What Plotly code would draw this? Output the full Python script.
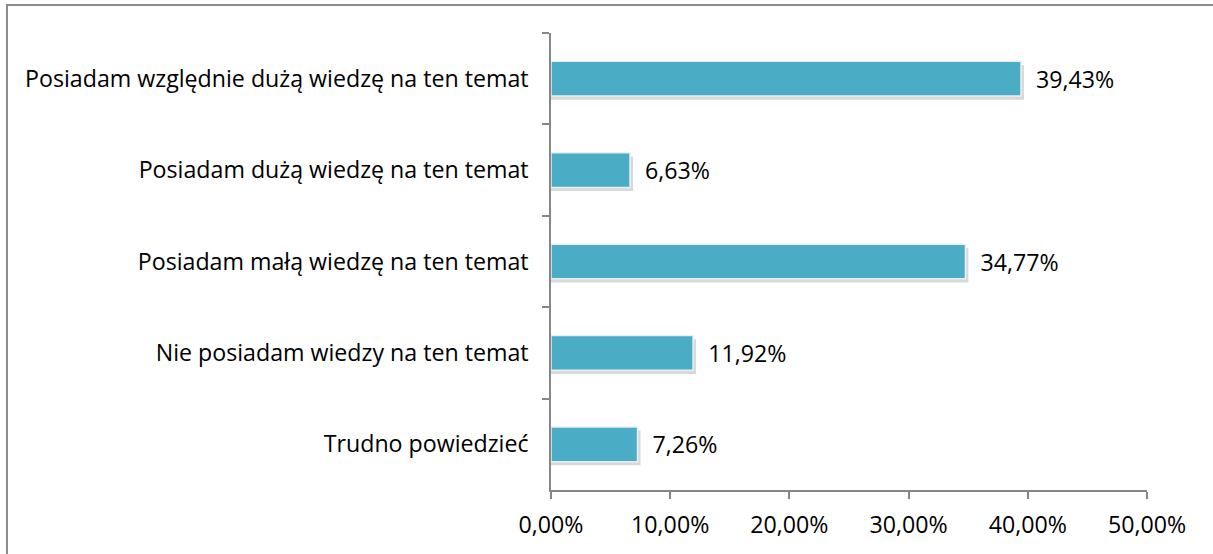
import plotly.graph_objects as go

categories = [
    "Posiadam względnie dużą wiedzę na ten temat",
    "Posiadam dużą wiedzę na ten temat",
    "Posiadam małą wiedzę na ten temat",
    "Nie posiadam wiedzy na ten temat",
    "Trudno powiedzieć",
]
values = [39.43, 6.63, 34.77, 11.92, 7.26]
x_ticks = [0, 10, 20, 30, 40, 50]
x_tick_labels = ["0,00%", "10,00%", "20,00%", "30,00%", "40,00%", "50,00%"]

FONT = "Open Sans"
FS = 23.2
BAR_W = 0.38
fig = go.Figure()
# soft shadow under each bar
fig.add_trace(go.Bar(
    y=categories,
    x=[v + 0.25 for v in values],
    orientation="h",
    marker=dict(color="rgba(0,0,0,0.15)", line=dict(width=0)),
    width=BAR_W,
    offset=-BAR_W / 2 + 0.04,
    hoverinfo="skip",
))
fig.add_trace(go.Bar(
    y=categories,
    x=values,
    orientation="h",
    marker=dict(color="#4BACC6", line=dict(color="#E8F0F2", width=1.5)),
    text=["  " + ("%.2f%%" % v).replace(".", ",") for v in values],
    textposition="outside",
    textfont=dict(family=FONT, size=FS, color="#000000"),
    cliponaxis=False,
    width=BAR_W,
    offset=-BAR_W / 2,
    hoverinfo="skip",
))

fig.update_layout(
    width=1213, height=554,
    margin=dict(l=551, r=66, t=33, b=64),
    paper_bgcolor="white", plot_bgcolor="white",
    barmode="overlay",
    showlegend=False,
    font=dict(family=FONT, size=FS, color="#000000"),
    xaxis=dict(
        range=[0, 50], tickvals=x_ticks, ticktext=x_tick_labels,
        showgrid=False, zeroline=False,
        showline=True, linecolor="#868686", linewidth=1.5,
        ticks="outside", ticklen=7, tickcolor="#868686", tickwidth=1.5,
        tickfont=dict(family=FONT, size=FS),
        ticklabelstandoff=6,
        fixedrange=True,
    ),
    yaxis=dict(
        autorange="reversed",
        showgrid=False, zeroline=False,
        showline=True, linecolor="#868686", linewidth=1.5,
        ticks="outside", ticklen=7, tickcolor="#868686", tickwidth=1.5,
        tickson="boundaries",
        tickfont=dict(family=FONT, size=FS),
        ticklabelstandoff=16,
        fixedrange=True,
    ),
    shapes=[dict(
        type="rect", xref="paper", yref="paper",
        x0=-0.9128, x1=1.3, y0=-0.3, y1=1.0613,
        line=dict(color="#8C8C8C", width=2), fillcolor="rgba(0,0,0,0)",
        layer="below",
    )],
)

fig.write_html("out.html", config={"displayModeBar": False},
               post_script="document.body.style.margin='0';")
